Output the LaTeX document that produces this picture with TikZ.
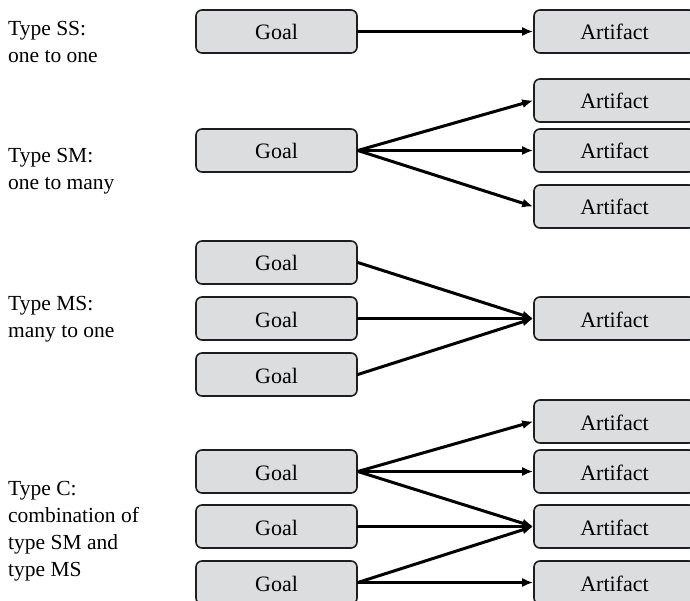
\documentclass[tikz,border=0pt]{standalone}
\usepackage{fontspec}
\setmainfont{Liberation Serif}
\usetikzlibrary{arrows.meta}
\definecolor{boxfill}{HTML}{DCDDDF}
\definecolor{boxline}{HTML}{1E1E1E}
\tikzset{
  txt/.style={font=\fontsize{21.5}{26.5}\selectfont},
  card/.style={draw=boxline, line width=1.6pt, fill=boxfill, rounded corners=6pt,
    minimum width=161pt, minimum height=43pt, inner sep=0pt,
    font=\fontsize{22}{26.5}\selectfont, text height=17pt, text depth=0pt},
  lbl/.style={txt, anchor=base west, inner sep=0pt},
  link/.style={line width=3pt, -{Latex[length=11pt,width=9pt]}, shorten <=-0.5pt}
}
\begin{document}
\begin{tikzpicture}[x=1pt,y=-1pt]
\useasboundingbox (0,0) rectangle (690,601);

% --- left column labels
\node[lbl] (ss1) at (8,36) {Type SS:};
\node[lbl] (ss2) at (8,62.5) {one to one};
\node[lbl] (sm1) at (8,163) {Type SM:};
\node[lbl] (sm2) at (8,189.5) {one to many};
\node[lbl] (ms1) at (8,310.5) {Type MS:};
\node[lbl] (ms2) at (8,337) {many to one};
\node[lbl] (c1) at (8,495.5) {Type C:};
\node[lbl] (c2) at (8,522.5) {combination of};
\node[lbl] (c3) at (8,549.5) {type SM and};
\node[lbl] (c4) at (8,576.5) {type MS};

% --- type SS
\node[card] (gSS) at (276.5,31.5) {Goal};
\node[card] (aSS) at (614.5,31.5) {Artifact};
\draw[link] (gSS.east) -- (aSS.west);

% --- type SM
\node[card] (gSM) at (276.5,150.5) {Goal};
\node[card] (aSM1) at (614.5,100.5) {Artifact};
\node[card] (aSM2) at (614.5,150.5) {Artifact};
\node[card] (aSM3) at (614.5,206.5) {Artifact};
\draw[link] (gSM.east) -- (aSM1.west);
\draw[link] (gSM.east) -- (aSM2.west);
\draw[link] (gSM.east) -- (aSM3.west);

% --- type MS
\node[card] (gMS1) at (276.5,262.5) {Goal};
\node[card] (gMS2) at (276.5,318.5) {Goal};
\node[card] (gMS3) at (276.5,374.5) {Goal};
\node[card] (aMS) at (614.5,318.5) {Artifact};
\draw[link] (gMS1.east) -- (aMS.west);
\draw[link] (gMS2.east) -- (aMS.west);
\draw[link] (gMS3.east) -- (aMS.west);

% --- type C
\node[card] (gC1) at (276.5,471.5) {Goal};
\node[card] (gC2) at (276.5,526.5) {Goal};
\node[card] (gC3) at (276.5,582.5) {Goal};
\node[card] (aC1) at (614.5,421.5) {Artifact};
\node[card] (aC2) at (614.5,471.5) {Artifact};
\node[card] (aC3) at (614.5,526.5) {Artifact};
\node[card] (aC4) at (614.5,582.5) {Artifact};
\draw[link] (gC1.east) -- (aC1.west);
\draw[link] (gC1.east) -- (aC2.west);
\draw[link] (gC1.east) -- (aC3.west);
\draw[link] (gC2.east) -- (aC3.west);
\draw[link] (gC3.east) -- (aC3.west);
\draw[link] (gC3.east) -- (aC4.west);
\end{tikzpicture}
\end{document}
